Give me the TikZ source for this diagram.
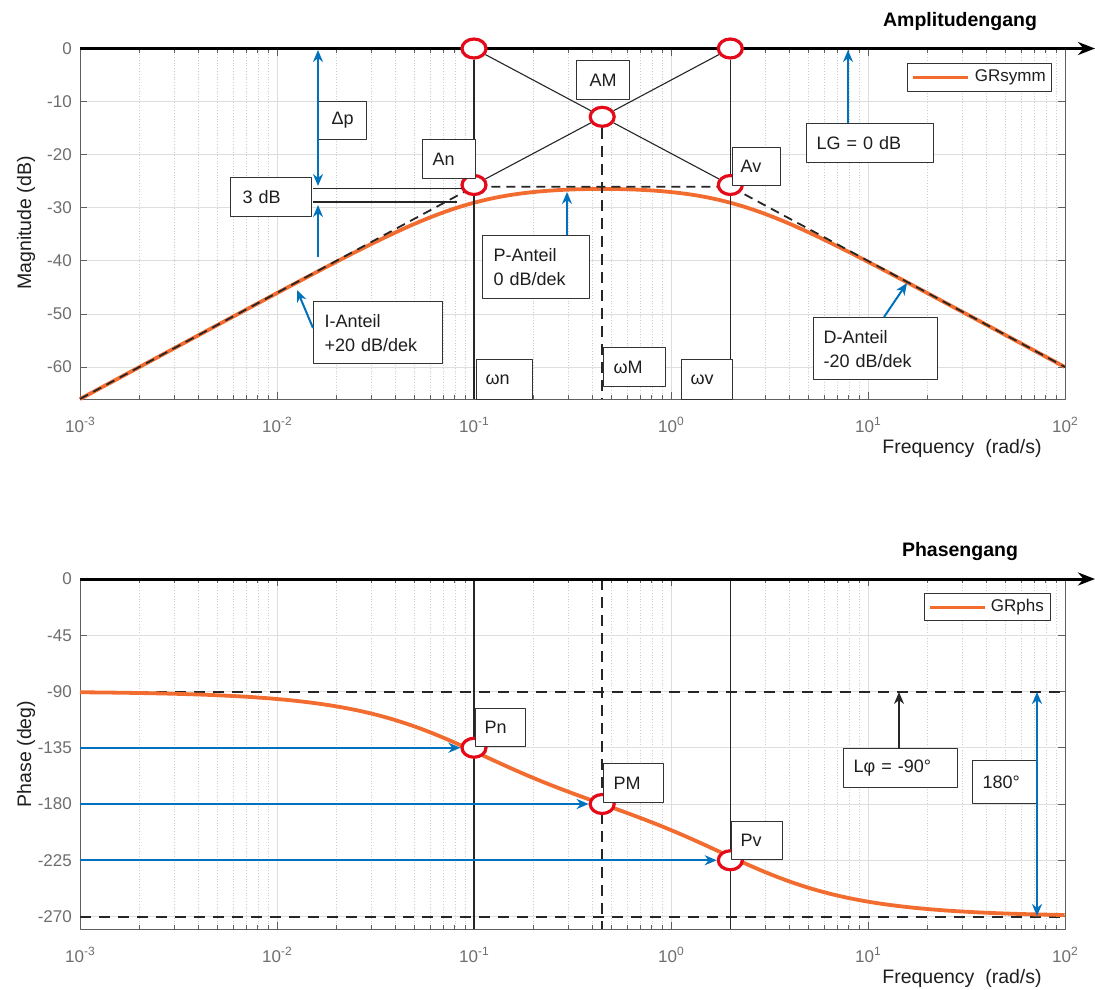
\documentclass[tikz,border=0pt]{standalone}
\usepackage{fontspec}
\setmainfont{Liberation Sans}
\usetikzlibrary{arrows.meta,shapes.geometric,calc}
\definecolor{mblue}{RGB}{0,114,189}
\definecolor{morange}{RGB}{242,108,48}
\definecolor{mred}{RGB}{228,10,25}
\definecolor{tickc}{RGB}{110,110,110}
\definecolor{majg}{RGB}{222,222,222}
\definecolor{ming}{RGB}{205,205,205}
\definecolor{axc}{RGB}{95,95,95}
\definecolor{txc}{RGB}{30,30,30}
\newcommand{\mytick}{\fontsize{17}{20}\selectfont}
\newcommand{\mysup}{\fontsize{12}{12}\selectfont}
\newcommand{\mylbl}{\fontsize{18}{24}\selectfont}
\newcommand{\myaxis}{\fontsize{19.5}{22}\selectfont}
\newcommand{\mytitle}{\fontsize{19.5}{22}\selectfont\bfseries}
\newcommand{\myleg}{\fontsize{17}{20}\selectfont}
\begin{document}
\begin{tikzpicture}[x=1pt,y=-1pt,line join=round,
  declare function={
    sp(\a)=max(\a,0)+log10(1+10^(-abs(\a)));
    mag(\t)=-26.0206+20*(\t+1)-10*sp(2*(\t+1))-10*sp(2*(\t-0.30103));
    ph(\t)=-90-atan(10^(\t+1))-atan(10^(\t-0.30103));
    px(\t)=80+197*(\t+3);
  },
  majgrid/.style={draw=majg,line width=0.9pt},
  mingrid/.style={draw=ming,line width=0.8pt,dotted},
  axbox/.style={draw=axc,line width=1pt},
  tk/.style={draw=axc,line width=0.9pt},
  ytl/.style={anchor=east,text=tickc,font=\mytick,inner sep=0pt},
  xtl/.style={anchor=center,text=tickc,font=\mytick,inner sep=0pt},
  curve/.style={draw=morange,line width=3.8pt},
  asym/.style={draw=black!85,line width=1.8pt,dash pattern=on 9pt off 6pt},
  hdash/.style={draw=black!85,line width=2pt,dash pattern=on 11pt off 8pt},
  vdash/.style={draw=black!85,line width=1.8pt,dash pattern=on 11pt off 7pt},
  vline/.style={draw=black!85,line width=1.6pt},
  thinl/.style={draw=black!85,line width=1.1pt},
  axarrow/.style={draw=black,line width=3pt,-{Stealth[length=17pt,width=13pt]}},
  ring/.style={ellipse,draw=mred,line width=3.2pt,fill=white,minimum width=24pt,minimum height=19pt,inner sep=0pt},
  box/.style={draw=black!80,line width=1.2pt,fill=white,inner ysep=0pt,font=\mylbl,text=txc,anchor=north west},
  barrow/.style={draw=mblue,line width=2pt,-{Stealth[length=12pt,width=10pt]}},
  bdarrow/.style={draw=mblue,line width=2pt,{Stealth[length=12pt,width=10pt]}-{Stealth[length=12pt,width=10pt]}},
  karrow/.style={draw=black!85,line width=1.6pt,-{Stealth[length=12pt,width=10pt]}},
  axlbl/.style={text=txc,font=\myaxis,inner sep=0pt},
  ttl/.style={text=black,font=\mytitle,inner sep=0pt},
  legbox/.style={draw=black!80,line width=1.1pt,fill=white,inner sep=0pt,anchor=north west},
  legtxt/.style={anchor=east,font=\myleg,text=txc,inner sep=0pt}
]
\useasboundingbox (0,0) rectangle (1095,989);
\fill[white] (0,0) rectangle (1095,989);

% ================= TOP PLOT (magnitude) =================
\foreach \k in {0,...,4}{\foreach \m in {2,...,9}{
  \draw[mingrid] ({80+197*(\k+log10(\m))},48.5) -- ({80+197*(\k+log10(\m))},399);}}
\foreach \k in {1,...,4}{\draw[majgrid] ({80+197*\k},48.5) -- ({80+197*\k},399);}
\foreach \d in {-10,-20,-30,-40,-50,-60}{\draw[majgrid] (80,{48.5-5.31*\d}) -- (1065,{48.5-5.31*\d});}
\foreach \k in {0,...,5}{
  \draw[tk] ({80+197*\k},399) -- ({80+197*\k},392);
  \draw[tk] ({80+197*\k},48.5) -- ({80+197*\k},55.5);}
\foreach \k in {0,...,4}{\foreach \m in {2,...,9}{
  \draw[tk] ({80+197*(\k+log10(\m))},399) -- ({80+197*(\k+log10(\m))},395);
  \draw[tk] ({80+197*(\k+log10(\m))},48.5) -- ({80+197*(\k+log10(\m))},52.5);}}
\foreach \d in {0,-10,-20,-30,-40,-50,-60}{
  \draw[tk] (80,{48.5-5.31*\d}) -- (87,{48.5-5.31*\d});
  \draw[tk] (1065,{48.5-5.31*\d}) -- (1058,{48.5-5.31*\d});}
\draw[axbox] (80,48.5) rectangle (1065,399);
\foreach \d [count=\i] in {0,-10,-20,-30,-40,-50,-60}{
  \node[ytl] (tyA\i) at (72,{48.5-5.31*\d}) {\d};}
\foreach \e [count=\i] in {-3,-2,-1,0,1,2}{
  \node[xtl] (txA\i) at ({80+197*(\i-1)},425) {10\raisebox{7pt}{\mysup\e}};}
\node[axlbl] (xlabA) at (962,448) {Frequency\ \ (rad/s)};
\node[axlbl,rotate=90] (ylabA) at (26,223) {Magnitude (dB)};
\node[ttl] (titA) at (960,21) {Amplitudengang};

\draw[curve] plot[domain=-3:2,samples=160,variable=\u] ({px(\u)},{48.5-5.31*mag(\u)});
\coordinate (aS) at (80,{48.5+66*5.31});
\coordinate (aN) at (474,{48.5+26.02*5.31});
\coordinate (aV) at (730.3,{48.5+26.02*5.31});
\coordinate (aE) at (1065,{48.5+59.98*5.31});
\draw[asym] (aS) -- (aN) -- (aV) -- (aE);

\coordinate (oA) at (80,48.5);
\coordinate (eA) at (1095,48.5);
\draw[axarrow] (oA) -- (eA);

\node[ring] (c0n) at (474,48.5) {};
\node[ring] (c0v) at (730.3,48.5) {};
\node[ring] (cAn) at (474,185) {};
\node[ring] (cAv) at (730.3,185) {};
\node[ring] (cAM) at (602.2,116.8) {};
\coordinate (bn) at (474,399);
\coordinate (bv) at (730.3,399);
\coordinate (bM) at (602.2,399);
\draw[vline] (c0n) -- (cAn);
\draw[vline] (cAn) -- (bn);
\draw[vline] (c0v) -- (cAv);
\draw[vline] (cAv) -- (bv);
\draw[vdash] (cAM) -- (bM);
\draw[thinl] (c0n) -- (cAM);
\draw[thinl] (cAM) -- (cAv);
\draw[thinl] (cAn) -- (cAM);
\draw[thinl] (cAM) -- (c0v);

\node[box,minimum width=48pt,minimum height=38pt,text width=48pt,inner xsep=0pt,align=center] (dp) at (318,101) {Δp};
\node[box,minimum width=81pt,minimum height=39pt,text width=57pt,inner xsep=12pt,align=left] (db3) at (230,177) {3 dB};
\node[box,minimum width=53pt,minimum height=39pt,text width=53pt,inner xsep=0pt,align=center] (bAM) at (576,60) {AM};
\node[box,minimum width=53pt,minimum height=39pt,text width=33pt,inner xsep=10pt,align=left] (bAn) at (422,139) {An};
\node[box,minimum width=48pt,minimum height=38pt,text width=32pt,inner xsep=8pt,align=left] (bAv) at (732,147) {Av};
\node[box,minimum width=127pt,minimum height=39pt,text width=107pt,inner xsep=10pt,align=left] (bLG) at (806,123) {LG = 0 dB};
\node[box,minimum width=107pt,minimum height=63pt,text width=85pt,inner xsep=11pt,align=left] (bPa) at (482,235) {P-Anteil\\0 dB/dek};
\node[box,minimum width=129pt,minimum height=62pt,text width=107pt,inner xsep=11pt,align=left] (bIa) at (313,301) {I-Anteil\\+20 dB/dek};
\node[box,minimum width=124pt,minimum height=62pt,text width=104pt,inner xsep=10pt,align=left] (bDa) at (813,317) {D-Anteil\\-20 dB/dek};
\node[box,minimum width=56pt,minimum height=40pt,text width=38pt,inner xsep=9pt,align=left] (bwn) at (476,359) {ωn};
\node[box,minimum width=62pt,minimum height=39pt,text width=42pt,inner xsep=10pt,align=left] (bwM) at (603,347) {ωM};
\node[box,minimum width=51pt,minimum height=40pt,text width=33pt,inner xsep=9pt,align=left] (bwv) at (681,359) {ωv};

\node[legbox,minimum width=144pt,minimum height=28pt] (legA) at (907,63) {};
\coordinate (lA1) at (913,77);
\coordinate (lA2) at (968,77);
\draw[curve,line width=3pt] (lA1) -- (lA2);
\node[legtxt] (legAt) at (1046,77) {GRsymm};

\coordinate (t3a) at (313,188.5);
\coordinate (t3b) at (462,188.5);
\coordinate (t3c) at (313,202);
\coordinate (t3d) at (457,202);
\draw[thinl,line width=1.5pt] (t3a) -- (t3b);
\draw[thinl,line width=1.5pt] (t3c) -- (t3d);

\coordinate (dpT) at (318,50);
\coordinate (dpB) at (318,186);
\draw[bdarrow] (dpT) -- (dpB);
\coordinate (dq1) at (318,257);
\coordinate (dq2) at (318,205);
\draw[barrow] (dq1) -- (dq2);
\coordinate (tLG) at (848,50);
\draw[barrow] (bLG.north -| tLG) -- (tLG);
\coordinate (tPa) at (567,192);
\draw[barrow] (bPa.north -| tPa) -- (tPa);
\coordinate (sIa) at (313,328);
\coordinate (tIa) at (297,290);
\draw[barrow] (sIa) -- (tIa);
\coordinate (sDa) at (884,317);
\coordinate (tDa) at (907,283);
\draw[barrow] (sDa) -- (tDa);

% ================= BOTTOM PLOT (phase) =================
\foreach \k in {0,...,4}{\foreach \m in {2,...,9}{
  \draw[mingrid] ({80+197*(\k+log10(\m))},579) -- ({80+197*(\k+log10(\m))},929);}}
\foreach \k in {1,...,4}{\draw[majgrid] ({80+197*\k},579) -- ({80+197*\k},929);}
\foreach \d in {-45,-90,-135,-180,-225,-270}{\draw[majgrid] (80,{579-1.25*\d}) -- (1065,{579-1.25*\d});}
\foreach \k in {0,...,5}{
  \draw[tk] ({80+197*\k},929) -- ({80+197*\k},922);
  \draw[tk] ({80+197*\k},579) -- ({80+197*\k},586);}
\foreach \k in {0,...,4}{\foreach \m in {2,...,9}{
  \draw[tk] ({80+197*(\k+log10(\m))},929) -- ({80+197*(\k+log10(\m))},925);
  \draw[tk] ({80+197*(\k+log10(\m))},579) -- ({80+197*(\k+log10(\m))},583);}}
\foreach \d in {0,-45,-90,-135,-180,-225,-270}{
  \draw[tk] (80,{579-1.25*\d}) -- (87,{579-1.25*\d});
  \draw[tk] (1065,{579-1.25*\d}) -- (1058,{579-1.25*\d});}
\draw[axbox] (80,579) rectangle (1065,929);
\foreach \d [count=\i] in {0,-45,-90,-135,-180,-225,-270}{
  \node[ytl] (tyB\i) at (72,{579-1.25*\d}) {\d};}
\foreach \e [count=\i] in {-3,-2,-1,0,1,2}{
  \node[xtl] (txB\i) at ({80+197*(\i-1)},955) {10\raisebox{7pt}{\mysup\e}};}
\node[axlbl] (xlabB) at (962,978) {Frequency\ \ (rad/s)};
\node[axlbl,rotate=90] (ylabB) at (26,754) {Phase (deg)};
\node[ttl] (titB) at (960,551) {Phasengang};

\coordinate (h90a) at (80,691.5);
\coordinate (h90b) at (1065,691.5);
\coordinate (h270a) at (80,916.5);
\coordinate (h270b) at (1065,916.5);
\draw[hdash] (h90a) -- (h90b);
\draw[hdash] (h270a) -- (h270b);

\coordinate (vnT) at (474,579);
\coordinate (vnB) at (474,929);
\coordinate (vvT) at (730.3,579);
\coordinate (vvB) at (730.3,929);
\coordinate (vmT) at (602.2,579);
\coordinate (vmB) at (602.2,929);
\draw[vline] (vnT) -- (vnB);
\draw[vline] (vvT) -- (vvB);
\draw[vdash] (vmT) -- (vmB);

\draw[curve] plot[domain=-3:2,samples=160,variable=\u] ({px(\u)},{579-1.25*ph(\u)});

\coordinate (oB) at (80,579);
\coordinate (eB) at (1095,579);
\draw[axarrow] (oB) -- (eB);

\node[ring] (cPn) at (474,747.75) {};
\node[ring] (cPM) at (602.2,804) {};
\node[ring] (cPv) at (730.3,860.25) {};

\node[box,minimum width=50pt,minimum height=38pt,text width=32pt,inner xsep=9pt,align=left] (bPn) at (475,708) {Pn};
\node[box,minimum width=60pt,minimum height=39pt,text width=40pt,inner xsep=10pt,align=left] (bPM) at (603,763) {PM};
\node[box,minimum width=51pt,minimum height=38pt,text width=33pt,inner xsep=9pt,align=left] (bPv) at (731,821) {Pv};
\node[box,minimum width=114pt,minimum height=39pt,text width=94pt,inner xsep=10pt,align=left] (bLp) at (843,748) {Lφ = -90°};
\node[box,minimum width=64pt,minimum height=43pt,text width=44pt,inner xsep=10pt,align=left] (b180) at (972,760) {180°};

\node[legbox,minimum width=126pt,minimum height=27pt] (legB) at (924,593) {};
\coordinate (lB1) at (930,607);
\coordinate (lB2) at (985,607);
\draw[curve,line width=3pt] (lB1) -- (lB2);
\node[legtxt] (legBt) at (1044,607) {GRphs};

\coordinate (sPn) at (80,747.75);
\coordinate (sPM) at (80,804);
\coordinate (sPv) at (80,860.25);
\draw[barrow] (sPn) -- (cPn);
\draw[barrow] (sPM) -- (cPM);
\draw[barrow] (sPv) -- (cPv);
\coordinate (tLp) at (899,692);
\draw[karrow] (bLp.north -| tLp) -- (tLp);
\coordinate (a180T) at (1037,692);
\coordinate (a180B) at (1037,916);
\draw[bdarrow] (a180T) -- (a180B);
\end{tikzpicture}
\end{document}
